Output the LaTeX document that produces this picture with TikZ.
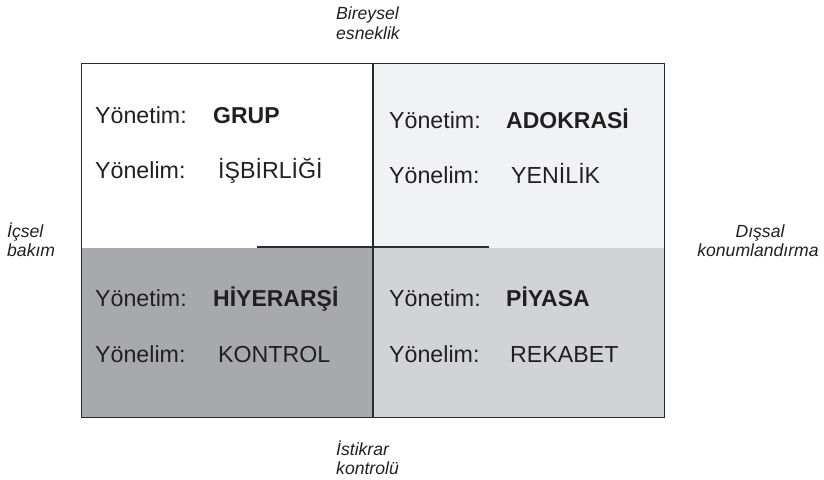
\documentclass[tikz,border=0pt]{standalone}
\usepackage{fontspec}
\setmainfont{Liberation Sans}
\definecolor{txt}{HTML}{231F20}
\definecolor{edge}{HTML}{2B2B2B}
\definecolor{fillTR}{HTML}{F1F2F4}
\definecolor{fillBR}{HTML}{D1D3D4}
\definecolor{fillBL}{HTML}{A7A9AC}
\begin{document}
\begin{tikzpicture}[x=1pt,y=-1pt,
  lbl/.style={inner sep=0pt,anchor=base west,text=txt,font=\fontsize{23.2}{27}\selectfont},
  val/.style={lbl,font=\fontsize{23.2}{27}\selectfont},
  valb/.style={lbl,font=\fontsize{23}{27}\selectfont\bfseries},
  axl/.style={inner sep=0pt,anchor=base west,text=txt,font=\fontsize{17.6}{20}\selectfont\itshape},
  axc/.style={inner sep=0pt,anchor=base,text=txt,font=\fontsize{17.6}{20}\selectfont\itshape},
  frame/.style={draw=edge,line width=1.4pt}]
\useasboundingbox (0,0) rectangle (824,479);
% quadrant fills
\fill[white] (81,63) rectangle (373,248);
\fill[fillTR] (373,63) rectangle (664,248);
\fill[fillBL] (81,248) rectangle (373,417);
\fill[fillBR] (373,248) rectangle (664,417);
% inner lines
\coordinate (hA) at (257,247);
\coordinate (hB) at (489,247);
\coordinate (vA) at (373,63);
\coordinate (vB) at (373,417);
\draw[frame] (hA) -- (hB);
\draw[frame] (vA) -- (vB);
\node[frame,inner sep=0pt,minimum width=583pt,minimum height=354pt,anchor=north west] (box) at (81,63) {};
% top-left
\node[lbl] (tl1) at (95,123) {Yönetim:};
\node[valb] (tl1v) at (213,123) {GRUP};
\node[lbl] (tl2) at (95,178) {Yönelim:};
\node[val] (tl2v) at (218,178) {İŞBİRLİĞİ};
% top-right
\node[lbl] (tr1) at (389,128) {Yönetim:};
\node[valb] (tr1v) at (506,128) {ADOKRASİ};
\node[lbl] (tr2) at (389,183) {Yönelim:};
\node[val] (tr2v) at (511,183) {YENİLİK};
% bottom-left
\node[lbl] (bl1) at (95,306) {Yönetim:};
\node[valb] (bl1v) at (213,306) {HİYERARŞİ};
\node[lbl] (bl2) at (95,362) {Yönelim:};
\node[val] (bl2v) at (218,362) {KONTROL};
% bottom-right
\node[lbl] (br1) at (389,306) {Yönetim:};
\node[valb] (br1v) at (506,306) {PİYASA};
\node[lbl] (br2) at (389,362) {Yönelim:};
\node[val] (br2v) at (510,362) {REKABET};
% axis labels
\node[axl] (top1) at (336,19) {Bireysel};
\node[axl] (top2) at (336,39) {esneklik};
\node[axl] (bot1) at (336,455) {İstikrar};
\node[axl] (bot2) at (336,474) {kontrolü};
\node[axl] (lft1) at (7,237) {İçsel};
\node[axl] (lft2) at (7,256) {bakım};
\node[axc] (rgt1) at (760,237) {Dışsal};
\node[axc] (rgt2) at (758,256) {konumlandırma};
\end{tikzpicture}
\end{document}
